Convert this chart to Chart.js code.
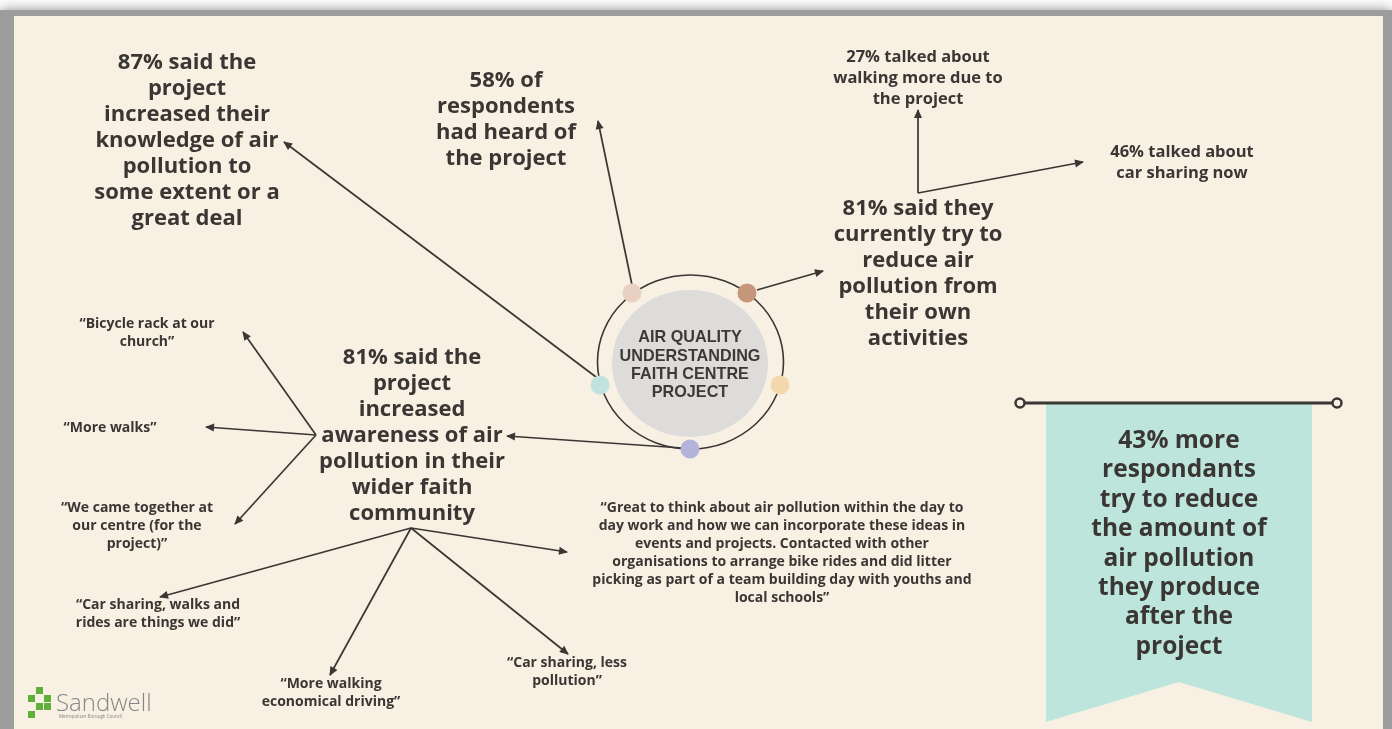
<!DOCTYPE html>
<html>
<head>
<meta charset="utf-8">
<script src="https://cdn.jsdelivr.net/npm/chart.js@4.4.1/dist/chart.umd.min.js"></script>
<style>
  html, body { margin: 0; padding: 0; background: #fff; overflow: hidden; }
  canvas { display: block; }
</style>
</head>
<body>
<canvas id="myChart" width="1392" height="729"></canvas>
<script>
// survey figures
const statPercents = [87, 58, 81, 27, 46, 81, 43];
const statTexts = [
  '% said the\nproject\nincreased their\nknowledge of air\npollution to\nsome extent or a\ngreat deal',
  '% of\nrespondents\nhad heard of\nthe project',
  '% said they\ncurrently try to\nreduce air\npollution from\ntheir own\nactivities',
  '% talked about\nwalking more due to\nthe project',
  '% talked about\ncar sharing now',
  '% said the\nproject\nincreased\nawareness of air\npollution in their\nwider faith\ncommunity',
  '% more\nrespondants\ntry to reduce\nthe amount of\nair pollution\nthey produce\nafter the\nproject'
];
const quotes = [
  'Bicycle rack at our\nchurch',
  'More walks',
  'We came together at\nour centre (for the\nproject)',
  'Car sharing, walks and\nrides are things we did',
  'More walking\neconomical driving',
  'Car sharing, less\npollution',
  'Great to think about air pollution within the day to\nday work and how we can incorporate these ideas in\nevents and projects. Contacted with other\norganisations to arrange bike rides and did litter\npicking as part of a team building day with youths and\nlocal schools'
];
const centreTitle = 'AIR QUALITY\nUNDERSTANDING\nFAITH CENTRE\nPROJECT';
const dotColors = ['#e8d0c3', '#c59679', '#c0e4dd', '#f3d8ae', '#b4b4da'];

// layout (page coordinates)
const statLayout = [
  { x: 187, y: 63, size: 22, lh: 26 },
  { x: 506, y: 81, size: 22, lh: 26 },
  { x: 918, y: 209, size: 22, lh: 26 },
  { x: 918, y: 57, size: 16.5, lh: 21 },
  { x: 1182, y: 152, size: 16.5, lh: 21 },
  { x: 412, y: 358, size: 22, lh: 26 },
  { x: 1179, y: 441, size: 24.5, lh: 29.4 }
];
const quoteLayout = [[147, 324], [110, 428], [137, 508], [158, 605], [331, 684], [567, 663], [782, 508]];
const dotLayout = [[632, 293], [747, 293], [600, 385], [780, 385], [690, 449]];
const arrowLayout = [
  [[600, 380], [284, 142]],
  [[632, 285], [598, 121]],
  [[757, 290], [823, 271]],
  [[918, 193], [918, 110]],
  [[918, 193], [1083, 162]],
  [[682, 448], [507, 436]],
  [[316, 435], [243, 332]],
  [[316, 435], [206, 427]],
  [[316, 435], [235, 524]],
  [[411, 528], [160, 597]],
  [[411, 528], [330, 675]],
  [[411, 528], [567, 552]],
  [[411, 528], [568, 654]]
];

const ink = '#3a3633';
const font = '"Open Sans", "DejaVu Sans", sans-serif';

function drawLines(ctx, text, x, y, size, lh, weight, family) {
  ctx.font = weight + ' ' + size + 'px ' + (family || font);
  ctx.textAlign = 'center';
  ctx.textBaseline = 'middle';
  text.split('\n').forEach((line, i) => ctx.fillText(line, x, y + i * lh));
}

const backdrop = {
  id: 'backdrop',
  beforeDraw(chart) {
    const ctx = chart.ctx;
    ctx.save();
    ctx.fillStyle = '#fff';
    ctx.fillRect(0, 0, chart.width, chart.height);
    ctx.shadowColor = 'rgba(0,0,0,0.45)';
    ctx.shadowBlur = 12;
    ctx.fillStyle = '#9d9d9d';
    ctx.fillRect(0, 10, 1392, 740);
    ctx.shadowBlur = 0;
    ctx.fillStyle = '#f7f0e3';
    ctx.fillRect(14, 16, 1369, 720);
    ctx.restore();
  },
  beforeDatasetsDraw(chart) {
    const ctx = chart.ctx;
    const sx = v => chart.scales.x.getPixelForValue(v);
    const sy = v => chart.scales.y.getPixelForValue(v);
    ctx.save();
    // centre disc + ring
    ctx.fillStyle = '#dddcdb';
    ctx.beginPath();
    ctx.ellipse(sx(690), sy(363.5), 78, 73.5, 0, 0, Math.PI * 2);
    ctx.fill();
    ctx.strokeStyle = ink;
    ctx.lineWidth = 1.6;
    ctx.beginPath();
    ctx.ellipse(sx(690.5), sy(362), 93, 87, 0, 0, Math.PI * 2);
    ctx.stroke();
    // ribbon
    ctx.fillStyle = '#bde5dc';
    ctx.beginPath();
    ctx.moveTo(sx(1046), sy(403));
    ctx.lineTo(sx(1312), sy(403));
    ctx.lineTo(sx(1312), sy(722));
    ctx.lineTo(sx(1179), sy(682));
    ctx.lineTo(sx(1046), sy(722));
    ctx.closePath();
    ctx.fill();
    ctx.strokeStyle = ink;
    ctx.lineWidth = 3;
    ctx.beginPath();
    ctx.moveTo(sx(1024), sy(403));
    ctx.lineTo(sx(1333), sy(403));
    ctx.stroke();
    ctx.lineWidth = 2.5;
    ctx.fillStyle = '#f7f0e3';
    [1020, 1337].forEach(x => {
      ctx.beginPath();
      ctx.arc(sx(x), sy(403), 4.5, 0, Math.PI * 2);
      ctx.fill();
      ctx.stroke();
    });
    // logo
    ctx.fillStyle = '#5fb03a';
    [[1, 0], [0, 1], [2, 1], [1, 2], [2, 2], [0, 3]].forEach(([c, r]) => {
      ctx.fillRect(sx(28 + c * 8), sy(687 + r * 8), 7, 7);
    });
    ctx.fillStyle = '#868686';
    ctx.font = '300 24px ' + font;
    ctx.textAlign = 'left';
    ctx.textBaseline = 'alphabetic';
    ctx.fillText('Sandwell', sx(56), sy(711));
    ctx.font = '4.5px ' + font;
    ctx.fillText('Metropolitan Borough Council', sx(59), sy(718));
    ctx.restore();
  },
  afterDatasetsDraw(chart) {
    const ctx = chart.ctx;
    const sx = v => chart.scales.x.getPixelForValue(v);
    const sy = v => chart.scales.y.getPixelForValue(v);
    ctx.save();
    // arrow heads
    ctx.fillStyle = ink;
    chart.data.datasets.forEach(ds => {
      if (!ds.arrow) return;
      const a = ds.data[0], b = ds.data[1];
      const x1 = sx(a.x), y1 = sy(a.y), x2 = sx(b.x), y2 = sy(b.y);
      const ang = Math.atan2(y2 - y1, x2 - x1);
      ctx.save();
      ctx.translate(x2, y2);
      ctx.rotate(ang);
      ctx.beginPath();
      ctx.moveTo(1, 0);
      ctx.lineTo(-8, -4);
      ctx.lineTo(-8, 4);
      ctx.closePath();
      ctx.fill();
      ctx.restore();
    });
    ctx.fillStyle = ink;
    statPercents.forEach((p, i) => {
      const l = statLayout[i];
      drawLines(ctx, p + statTexts[i], sx(l.x), sy(l.y), l.size, l.lh, '700');
    });
    quotes.forEach((q, i) => {
      const [x, y] = quoteLayout[i];
      drawLines(ctx, '\u201C' + q + '\u201D', sx(x), sy(y), 14, 18, '700');
    });
    ctx.fillStyle = '#3c3a38';
    drawLines(ctx, centreTitle, sx(690), sy(338), 16.2, 18.2, '700', '"Liberation Sans", Arial, sans-serif');
    ctx.restore();
  }
};

const arrowSets = arrowLayout.map(seg => ({
  type: 'line',
  arrow: true,
  data: seg.map(([x, y]) => ({ x, y })),
  borderColor: ink,
  borderWidth: 1.7,
  pointRadius: 0,
  pointHoverRadius: 0,
  fill: false,
  clip: false,
  order: 2
}));

const myChart = new Chart(document.getElementById('myChart'), {
  type: 'scatter',
  data: {
    datasets: [
      {
        label: 'nodes',
        data: dotLayout.map(([x, y]) => ({ x, y })),
        pointRadius: 9.5,
        pointBackgroundColor: dotColors,
        pointBorderWidth: 0,
        clip: false,
        order: 1
      },
      ...arrowSets
    ]
  },
  options: {
    responsive: false,
    animation: false,
    layout: { padding: 0, autoPadding: false },
    scales: {
      x: { type: 'linear', min: 0, max: 1392, display: false },
      y: { type: 'linear', min: 0, max: 729, reverse: true, display: false }
    },
    plugins: {
      legend: { display: false },
      tooltip: { enabled: false }
    }
  },
  plugins: [backdrop]
});
</script>
</body>
</html>
